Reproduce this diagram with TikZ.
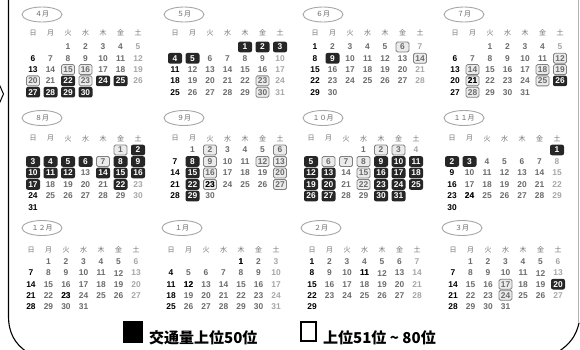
\documentclass[tikz,border=0pt]{standalone}
\usepackage{fontspec}
\setmainfont{Liberation Sans}
\newfontfamily\jp{Noto Sans CJK JP}
\usetikzlibrary{shapes.geometric}
\tikzset{
  numf/.style={font=\fontsize{8.4}{8.4}\selectfont\bfseries, inner sep=0pt},
  dwk/.style={numf, text=black!58},
  dsat/.style={numf, text=black!35},
  dsun/.style={numf, text=black},
  dhol/.style={numf, text=black},
  dwht/.style={numf, text=white},
  bbox/.style={fill=black!85, rounded corners=2pt, minimum width=14pt, minimum height=10.6pt, inner sep=0pt},
  obox/.style={draw=black!50, fill=black!8, line width=0.8pt, rounded corners=1.5pt, minimum width=13pt, minimum height=10pt, inner sep=0pt},
  hd/.style={font=\jp\fontsize{7}{7}\selectfont, text=black!55, inner sep=0pt},
  mlab/.style={ellipse, draw=black!35, line width=0.9pt, minimum width=40pt, minimum height=15pt, inner sep=0pt, text=black!60, font=\jp\fontsize{7}{7}\selectfont},
  legtext/.style={anchor=base west, inner sep=0pt, font=\jp\bfseries\fontsize{15}{15}\selectfont},
  frame/.style={line width=1.1pt, line cap=round},
}
\newcommand\setm[5]{\gdef\cmI{#1}\gdef\cmX{#2}\gdef\cmY{#3}\gdef\cmS{#4}\gdef\cmT{#5}}
\newcommand\cpos[1]{%
  \pgfmathtruncatemacro\cidx{#1-1+\cmT}%
  \pgfmathtruncatemacro\ccol{mod(\cidx,7)}%
  \pgfmathtruncatemacro\crow{floor(\cidx/7)}%
  \pgfmathsetmacro\px{\cmX+\ccol*17.5}%
  \pgfmathsetmacro\py{\cmY+\crow*\cmS}}
\newcommand\cdays[1]{\foreach \d in {1,...,#1}{\cpos{\d}%
  \ifnum\ccol=0 \def\dst{dsun}\else\ifnum\ccol=6 \def\dst{dsat}\else\def\dst{dwk}\fi\fi
  \node[\dst] (\cmI-\d) at (\px,\py) {\d};}}
\newcommand\chol[1]{\foreach \d in {#1}{\cpos{\d}\node[dhol] (\cmI-h\d) at (\px,\py) {\d};}}
\newcommand\cblk[1]{\foreach \d in {#1}{\cpos{\d}\node[bbox] (\cmI-b\d) at (\px,\py) {};\node[dwht] (\cmI-w\d) at (\px,\py) {\d};}}
\newcommand\cotl[1]{\foreach \d in {#1}{\cpos{\d}\node[obox] (\cmI-o\d) at (\px,\py) {};\node[dwk] (\cmI-g\d) at (\px,\py) {\d};}}
\newcommand\chead[1]{\foreach \t [count=\i from 0] in {日,月,火,水,木,金,土}{\node[hd] (\cmI-hd\i) at ({\cmX+\i*17.5},#1) {\t};}}
\begin{document}
\begin{tikzpicture}[x=1pt,y=-1pt]
\useasboundingbox (0,0) rectangle (580,350);
% frame
\draw[frame] (8.5,-2) -- (8.5,316) .. controls (8.5,333) and (15,344) .. (27,352);
\draw[black!30, line width=0.8pt] (578.5,-2) -- (578.5,322);
\draw[frame] (579,323) .. controls (576,336) and (570,344) .. (558,352);
\draw[line width=1pt] (-0.5,85) -- (3.5,94) -- (-0.5,103);
% ---------- band 1
\setm{apr}{33}{47}{11.3}{2}
\node[mlab] (apr-lab) at (42,14.5) {４月};
\chead{33}\cdays{30}\cotl{15,16,20,23}\chol{29}\cblk{22,24,25,27,28,29,30}
\setm{may}{175}{47}{11.3}{4}
\node[mlab] (may-lab) at (184,14.5) {５月};
\chead{33}\cdays{31}\cotl{23,30}\chol{5}\cblk{1,2,3,4,5}
\setm{jun}{315}{47}{11.3}{0}
\node[mlab] (jun-lab) at (323,14.5) {６月};
\chead{33}\cdays{30}\cotl{6,14}\cblk{9}
\setm{jul}{455}{47}{11.3}{2}
\node[mlab] (jul-lab) at (464,14.5) {７月};
\chead{33}\cdays{31}\cotl{12,14,18,19,21,25,28}\chol{21}\cblk{26}
% ---------- band 2
\setm{aug}{33}{150}{11.5}{5}
\node[mlab] (aug-lab) at (42,118) {８月};
\chead{138.5}\cdays{31}\cotl{1,7}\cblk{2,3,4,5,6,8,9,10,11,12,14,15,16,17,22}
\setm{sep}{175}{150}{11.5}{1}
\node[mlab] (sep-lab) at (184,118) {９月};
\chead{138.5}\cdays{30}\cotl{2,9,16,23,12,6,13,20,27}\chol{15,23}\cblk{8,15,22,29}
\setm{oct}{311}{150}{11.5}{3}
\node[mlab] (oct-lab) at (323,118) {１０月};
\chead{138.5}\cdays{31}\cotl{2,3,6,7,8,15,22}\cblk{5,12,19,26,13,20,27,9,16,23,30,10,17,24,31,11,18,25}
\setm{nov}{452}{150}{11.5}{6}
\node[mlab] (nov-lab) at (464,118) {１１月};
\chead{138.5}\cdays{30}\chol{24}\cblk{1,2,3}
% ---------- band 3
\setm{dec}{31}{262}{11.1}{1}
\node[mlab] (dec-lab) at (42,228) {１２月};
\chead{250}\cdays{31}\chol{23}
\setm{jan}{171}{262}{11.1}{4}
\node[mlab] (jan-lab) at (182,228) {１月};
\chead{250}\cdays{31}\chol{1,12}
\setm{feb}{312}{262}{11.1}{0}
\node[mlab] (feb-lab) at (321,228) {２月};
\chead{250}\cdays{29}\chol{11}
\setm{mar}{453}{262}{11.1}{1}
\node[mlab] (mar-lab) at (462,228) {３月};
\chead{250}\cdays{31}\cotl{17,24}\cblk{20}
% ---------- legend
\node[fill=black, minimum width=20pt, minimum height=22pt, inner sep=0pt] (lg1) at (133,332) {};
\node[legtext] (lt1) at (149,343) {交通量上位50位};
\node[draw=black, line width=2.2pt, minimum width=15pt, minimum height=18.5pt, inner sep=0pt] (lg2) at (308.5,331.5) {};
\node[legtext] (lt2) at (323,343) {上位51位 \textasciitilde{} 80位};
\end{tikzpicture}
\end{document}
